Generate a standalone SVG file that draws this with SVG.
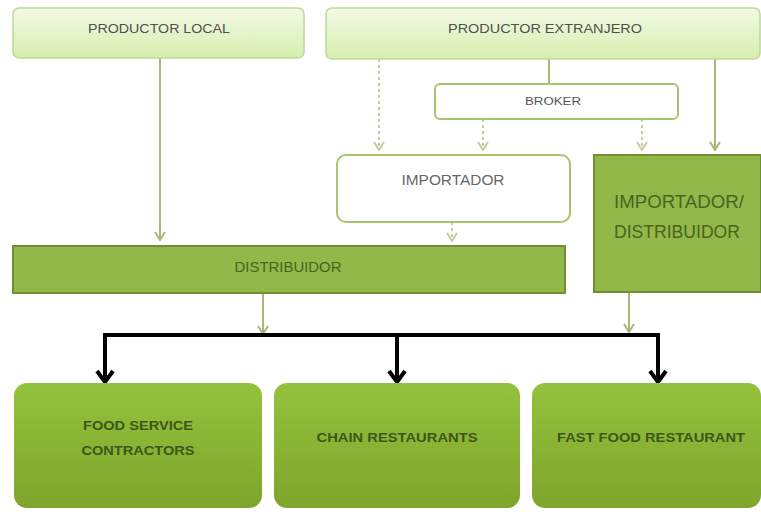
<svg xmlns="http://www.w3.org/2000/svg" width="761" height="512" viewBox="0 0 761 512">
<style>
text{font-family:"Liberation Sans",Arial,sans-serif;text-anchor:middle}
.top{fill:url(#gTop);stroke:#bcd99a;stroke-width:1.5}
.tt{font-size:13px;fill:#505050}
.mid{fill:#92b84a;stroke:#6f8f30;stroke-width:2}
.mt{fill:#4a6420}
.bot{fill:url(#gBot)}
.bt{font-size:13px;font-weight:bold;fill:#3d561a}
.ln{stroke:#a9b877;stroke-width:2;fill:none}
.dl{stroke:#c4cfa0;stroke-width:2;fill:none;stroke-dasharray:3 3}
.bk{stroke:#000;stroke-width:4;fill:none}
</style>
<defs>
<linearGradient id="gTop" x1="0" y1="0" x2="0" y2="1"><stop offset="0" stop-color="#f3fae6"/><stop offset="1" stop-color="#d6eeae"/></linearGradient>
<linearGradient id="gBot" x1="0" y1="0" x2="0" y2="1"><stop offset="0" stop-color="#93c23c"/><stop offset="1" stop-color="#7ea52c"/></linearGradient>
<marker id="ag" viewBox="0 0 12 10" refX="6" refY="9" markerWidth="12" markerHeight="10" markerUnits="userSpaceOnUse"><path d="M1 1 L6 9 L11 1" fill="none" stroke="#a9b877" stroke-width="2"/></marker>
<marker id="al" viewBox="0 0 12 10" refX="6" refY="9" markerWidth="12" markerHeight="10" markerUnits="userSpaceOnUse"><path d="M1 1 L6 9 L11 1" fill="none" stroke="#c4cfa0" stroke-width="2"/></marker>
<marker id="ab" viewBox="0 0 20 16" refX="10" refY="14" markerWidth="20" markerHeight="16" markerUnits="userSpaceOnUse"><path d="M2 3 L10 14 L18 3" fill="none" stroke="#000" stroke-width="4"/></marker>
</defs>
<g id="connectors">
<path class="ln" d="M160 58 V240" marker-end="url(#ag)"/>
<path class="ln" d="M549 59 V83"/>
<path class="dl" d="M379 59 V150" stroke-dasharray="8 3 2 3" marker-end="url(#al)"/>
<path class="dl" d="M483 119 V150" marker-end="url(#al)"/>
<path class="dl" d="M642 119 V150" marker-end="url(#al)"/>
<path class="ln" d="M715 59 V150" marker-end="url(#ag)"/>
<path class="dl" d="M452 222 V241" marker-end="url(#al)"/>
<path class="ln" d="M263 294 V334" marker-end="url(#ag)"/>
<path class="ln" d="M629 293 V332" marker-end="url(#ag)"/>
<path class="bk" d="M105 382 V335 H658 V382" marker-start="url(#ab)" marker-end="url(#ab)"/>
<path class="bk" d="M397 335 V382" marker-end="url(#ab)"/>
</g>
<g id="productor-local"><rect class="top" x="13" y="8" width="291" height="50" rx="6"/><text class="tt" x="159" y="33" textLength="142" lengthAdjust="spacingAndGlyphs">PRODUCTOR LOCAL</text></g>
<g id="productor-extranjero"><rect class="top" x="326" y="8" width="434" height="51" rx="6"/><text class="tt" x="545" y="33" textLength="194" lengthAdjust="spacingAndGlyphs">PRODUCTOR EXTRANJERO</text></g>
<g id="broker"><rect x="435" y="84" width="243" height="35" rx="5" fill="#fff" stroke="#a9c46e" stroke-width="2"/><text x="553" y="105" font-size="10" fill="#555" textLength="56" lengthAdjust="spacingAndGlyphs">BROKER</text></g>
<g id="importador"><rect x="337" y="155" width="233" height="67" rx="9" fill="#fff" stroke="#a9c46e" stroke-width="2"/><text x="453" y="185" font-size="14" fill="#666" textLength="103" lengthAdjust="spacingAndGlyphs">IMPORTADOR</text></g>
<g id="importador-distribuidor"><rect class="mid" x="594" y="155" width="167" height="137"/><text class="mt" x="679" y="208" font-size="18" textLength="130" lengthAdjust="spacingAndGlyphs">IMPORTADOR/</text><text class="mt" x="677" y="238" font-size="18" textLength="126" lengthAdjust="spacingAndGlyphs">DISTRIBUIDOR</text></g>
<g id="distribuidor"><rect class="mid" x="13" y="246" width="552" height="47"/><text class="mt" x="288" y="272" font-size="14" textLength="107" lengthAdjust="spacingAndGlyphs">DISTRIBUIDOR</text></g>
<g id="food-service"><rect class="bot" x="14" y="383" width="248" height="125" rx="13"/><text class="bt" x="138" y="430" textLength="110" lengthAdjust="spacingAndGlyphs">FOOD SERVICE</text><text class="bt" x="138" y="455" textLength="113" lengthAdjust="spacingAndGlyphs">CONTRACTORS</text></g>
<g id="chain"><rect class="bot" x="274" y="383" width="246" height="125" rx="13"/><text class="bt" x="397" y="442" textLength="161" lengthAdjust="spacingAndGlyphs">CHAIN RESTAURANTS</text></g>
<g id="fast-food"><rect class="bot" x="532" y="383" width="229" height="125" rx="13"/><text class="bt" x="651" y="442" textLength="188" lengthAdjust="spacingAndGlyphs">FAST FOOD RESTAURANT</text></g>
</svg>
